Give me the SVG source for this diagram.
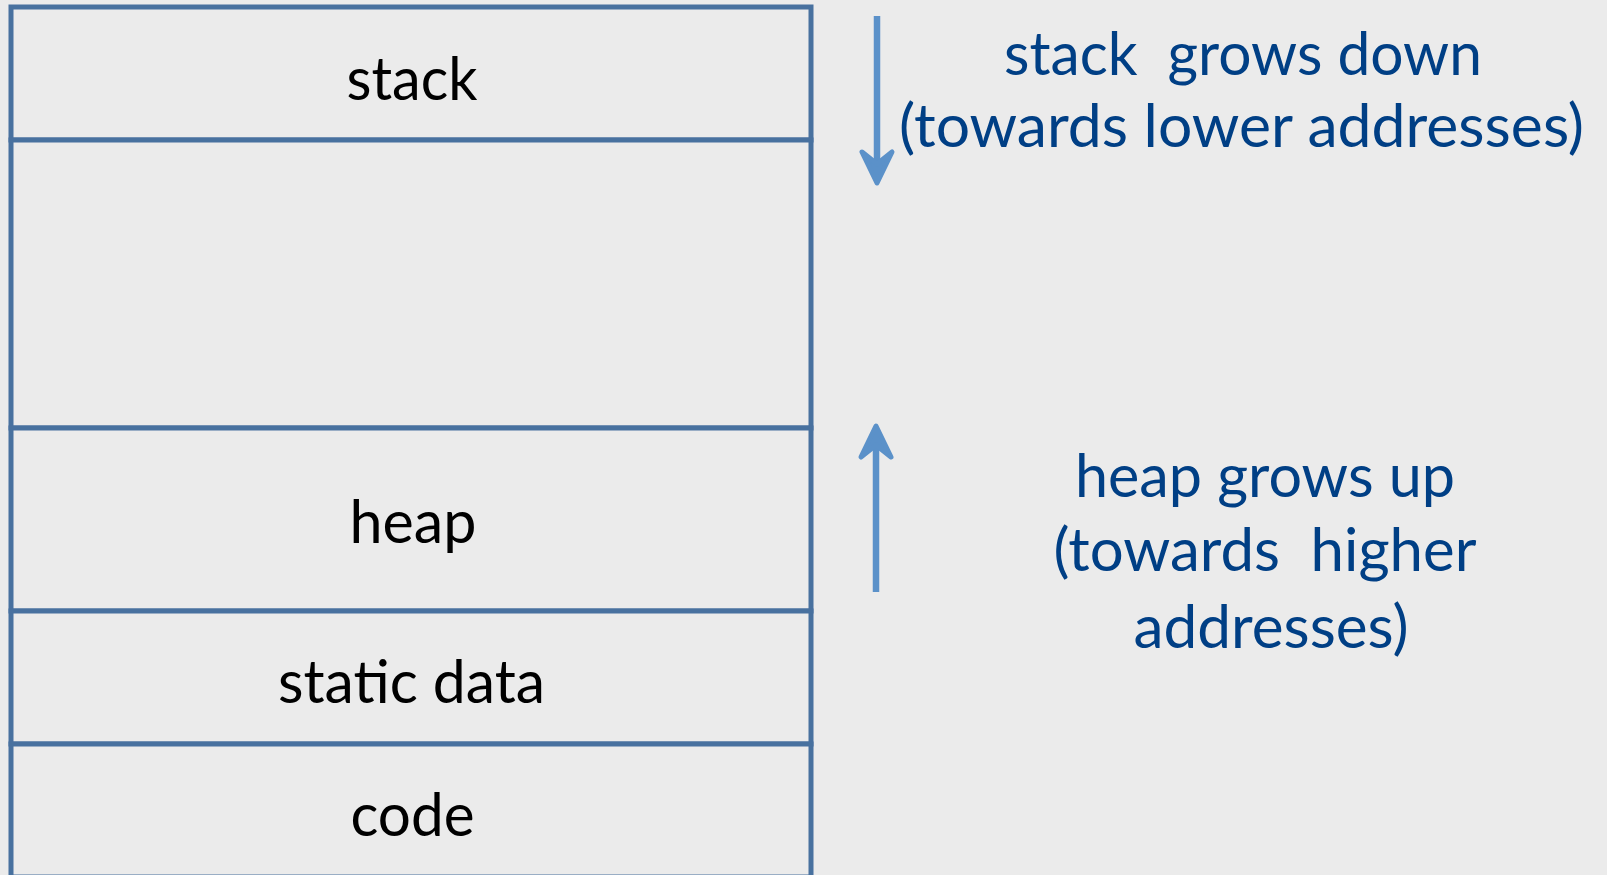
<svg xmlns="http://www.w3.org/2000/svg" xmlns:xlink="http://www.w3.org/1999/xlink" width="1607" height="875" viewBox="0 0 1607 875">
  <style>
    .seg { fill: #EBEBEB; stroke: #48719F; stroke-width: 5; }
    .lbl { font-family: Lato, "Open Sans", "Liberation Sans", sans-serif; font-size: 60px; fill: #000000; text-anchor: middle; }
    .note { font-family: Lato, "Open Sans", "Liberation Sans", sans-serif; font-size: 60px; fill: #003F85; text-anchor: middle; }
    .shaft { stroke: #5B91C9; stroke-width: 6.5; fill: none; }
    .head { fill: #5B91C9; stroke: #5B91C9; stroke-width: 5; stroke-linejoin: round; }
  </style>
  <defs>
    <path id="arrowhead" d="M0,0 L-15,-31 L0,-19 L15,-31 Z"/>
  </defs>
  <rect x="0" y="0" width="1607" height="875" fill="#EBEBEB"/>

  <g id="seg-stack">
    <rect class="seg" x="11" y="7" width="800" height="133"/>
    <text class="lbl" x="412" y="100" textLength="131" lengthAdjust="spacingAndGlyphs">stack</text>
  </g>
  <g id="seg-free">
    <rect class="seg" x="11" y="140" width="800" height="288"/>
  </g>
  <g id="seg-heap">
    <rect class="seg" x="11" y="428" width="800" height="183"/>
    <text class="lbl" x="413" y="543" textLength="127" lengthAdjust="spacingAndGlyphs">heap</text>
  </g>
  <g id="seg-static">
    <rect class="seg" x="11" y="611" width="800" height="133"/>
    <text class="lbl" x="411.5" y="703" textLength="267" lengthAdjust="spacingAndGlyphs">static data</text>
  </g>
  <g id="seg-code">
    <rect class="seg" x="11" y="744" width="800" height="133"/>
    <text class="lbl" x="412.5" y="836" textLength="124" lengthAdjust="spacingAndGlyphs">code</text>
  </g>

  <g id="connectors">
    <g id="arrow-stack">
      <line class="shaft" x1="877" y1="16" x2="877" y2="172"/>
      <use xlink:href="#arrowhead" href="#arrowhead" class="head" transform="translate(877,183)"/>
    </g>
    <g id="arrow-heap">
      <line class="shaft" x1="876" y1="592" x2="876" y2="437"/>
      <use xlink:href="#arrowhead" href="#arrowhead" class="head" transform="translate(876,426) rotate(180)"/>
    </g>
  </g>

  <g id="note-stack">
    <text class="note" x="1243" y="75" textLength="478" lengthAdjust="spacingAndGlyphs" xml:space="preserve">stack  grows down</text>
    <text class="note" x="1241.5" y="147" textLength="685" lengthAdjust="spacingAndGlyphs">(towards lower addresses)</text>
  </g>
  <g id="note-heap">
    <text class="note" x="1265" y="497" textLength="380" lengthAdjust="spacingAndGlyphs">heap grows up</text>
    <text class="note" x="1265" y="571" textLength="423" lengthAdjust="spacingAndGlyphs" xml:space="preserve">(towards  higher</text>
    <text class="note" x="1271" y="648" textLength="275" lengthAdjust="spacingAndGlyphs">addresses)</text>
  </g>
</svg>
